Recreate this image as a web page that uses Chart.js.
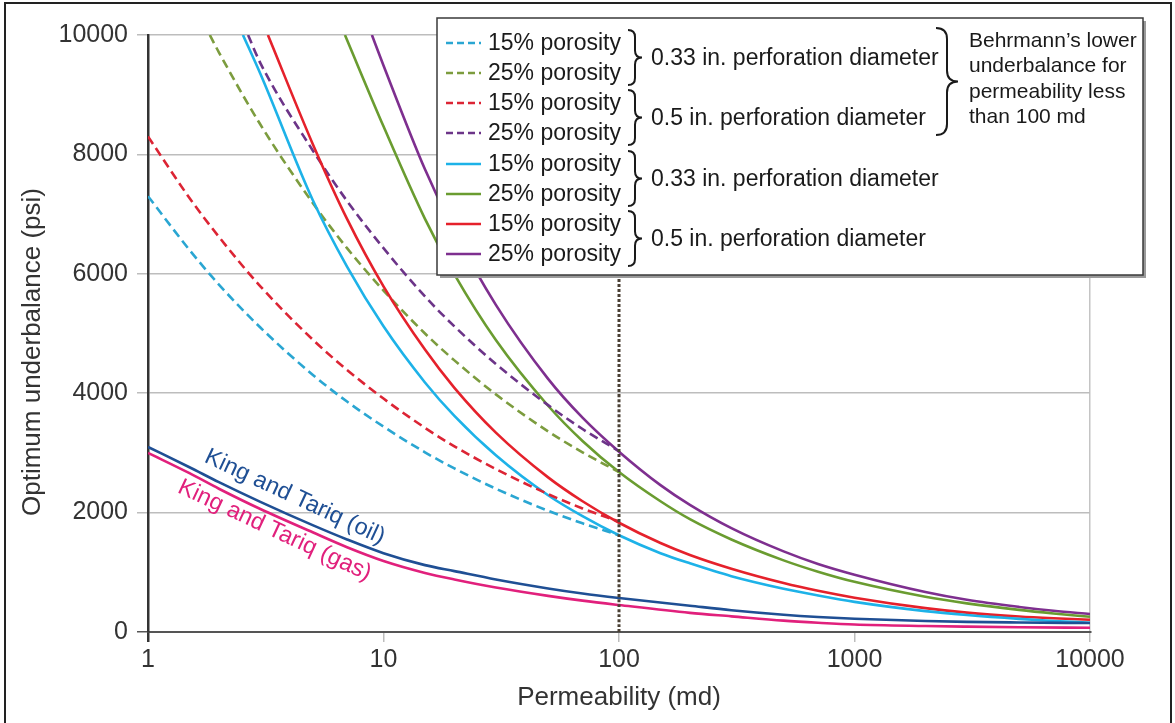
<!DOCTYPE html>
<html><head><meta charset="utf-8">
<script src="https://cdn.jsdelivr.net/npm/chart.js@4.4.0/dist/chart.umd.min.js"></script>
<style>html,body{margin:0;padding:0;background:#fff;}#wrap{width:1175px;height:723px;}</style>
</head><body><div id="wrap"><canvas id="c" width="1175" height="723"></canvas></div>
<script>
// ---- data ----
const xTickValues = [1, 10, 100, 1000, 10000];
const yTickValues = [0, 2000, 4000, 6000, 8000, 10000];

// Behrmann's lower underbalance (dashed), permeability < 100 md
const kDash15_033 = [1, 1.5, 2, 3, 5, 7, 10, 15, 20, 30, 50, 70, 100];
const vDash15_033 = [7300, 6400, 5820, 5100, 4310, 3860, 3440, 3010, 2740, 2400, 2030, 1820, 1620];
const kDash25_033 = [1.83, 2, 3, 5, 7, 10, 15, 20, 30, 50, 70, 100];
const vDash25_033 = [10000, 9710, 8500, 7190, 6430, 5720, 5000, 4550, 3980, 3360, 3010, 2680];
const kDash15_05 = [1, 1.5, 2, 3, 5, 7, 10, 15, 20, 30, 50, 70, 100];
const vDash15_05 = [8300, 7270, 6620, 5790, 4900, 4390, 3910, 3420, 3110, 2730, 2310, 2070, 1850];
const kDash25_05 = [2.66, 3, 5, 7, 10, 15, 20, 30, 50, 70, 100];
const vDash25_05 = [10000, 9530, 8070, 7220, 6430, 5620, 5120, 4490, 3800, 3400, 3030];

// Solid curves
const kSol15_033 = [2.53, 3, 5, 7, 10, 15, 20, 30, 50, 70, 100, 150, 200, 300, 500, 700, 1000, 2000, 3000, 5000, 7000, 10000];
const vSol15_033 = [10000, 9350, 7240, 6120, 5120, 4180, 3620, 2960, 2290, 1940, 1620, 1320, 1150, 935, 725, 612, 505, 350, 285, 220, 185, 155];
const kSol25_033 = [6.86, 10, 15, 20, 30, 50, 70, 100, 150, 200, 300, 500, 700, 1000, 2000, 3000, 5000, 7000, 10000];
const vSol25_033 = [10000, 8470, 6920, 5990, 4890, 3790, 3200, 2680, 2190, 1890, 1550, 1200, 1010, 840, 590, 480, 370, 310, 255];
const kSol15_05 = [3.23, 5, 7, 10, 15, 20, 30, 50, 70, 100, 150, 200, 300, 500, 700, 1000, 2000, 3000, 5000, 7000, 10000];
const vSol15_05 = [10000, 8180, 6920, 5790, 4730, 4090, 3340, 2590, 2190, 1830, 1490, 1290, 1060, 820, 690, 575, 400, 325, 260, 230, 205];
const kSol25_05 = [8.93, 10, 15, 20, 30, 50, 70, 100, 150, 200, 300, 500, 700, 1000, 2000, 3000, 5000, 7000, 10000];
const vSol25_05 = [10000, 9490, 7750, 6710, 5480, 4240, 3590, 3020, 2460, 2130, 1740, 1350, 1140, 960, 670, 540, 420, 355, 300];

// King and Tariq
const kKT = [1, 1.5, 2, 3, 5, 7, 10, 15, 20, 30, 50, 70, 100, 200, 300, 500, 700, 1000, 2000, 3000, 5000, 10000];
const vOil = [3100, 2760, 2510, 2180, 1790, 1550, 1320, 1120, 1020, 880, 730, 645, 570, 440, 365, 290, 252, 222, 185, 170, 160, 150];
const vGas = [3000, 2660, 2400, 2060, 1670, 1420, 1190, 990, 880, 745, 605, 525, 452, 320, 262, 190, 155, 125, 100, 90, 80, 70];

// Behrmann limit at 100 md
const kLimit = [100, 100];
const vLimit = [0, 10000];

const legendLabels = ['15% porosity', '25% porosity', '15% porosity', '25% porosity', '15% porosity', '25% porosity', '15% porosity', '25% porosity'];
const braceLabels = ['0.33 in. perforation diameter', '0.5 in. perforation diameter', '0.33 in. perforation diameter', '0.5 in. perforation diameter'];
const behrmannNote = ["Behrmann\u2019s lower", 'underbalance for', 'permeability less', 'than 100 md'];
const ktLabels = ['King and Tariq (oil)', 'King and Tariq (gas)'];
const yTitle = 'Optimum underbalance (psi)';
const xTitle = 'Permeability (md)';

// ---- styles ----
const C = {
  cyanD: '#2aa6d2', greenD: '#7c9c3e', redD: '#dc2434', purpD: '#6c3488',
  cyan: '#1db2e8', green: '#6a9c30', red: '#e5212b', purp: '#7e2f8f',
  oil: '#1f4f94', gas: '#e1207c', limit: '#4a4034'
};
const pts = (ks, vs) => ks.map((k, i) => ({x: k, y: vs[i]}));
const DASH = [9, 5];
function ds(label, ks, vs, color, dash, w) {
  return { label, data: pts(ks, vs), borderColor: color, borderWidth: w || 2.6, borderDash: dash || [],
    pointRadius: 0, showLine: true, fill: false, cubicInterpolationMode: 'monotone' };
}
const datasets = [
  ds('limit', kLimit, vLimit, C.limit, [3, 2], 3),
  ds('gas', kKT, vGas, C.gas),
  ds('oil', kKT, vOil, C.oil),
  ds('d15_033', kDash15_033, vDash15_033, C.cyanD, DASH),
  ds('d15_05', kDash15_05, vDash15_05, C.redD, DASH),
  ds('s15_033', kSol15_033, vSol15_033, C.cyan),
  ds('s15_05', kSol15_05, vSol15_05, C.red),
  ds('d25_033', kDash25_033, vDash25_033, C.greenD, DASH),
  ds('d25_05', kDash25_05, vDash25_05, C.purpD, DASH),
  ds('s25_033', kSol25_033, vSol25_033, C.green),
  ds('s25_05', kSol25_05, vSol25_05, C.purp),
];
const legendStyles = [
  [C.cyanD, [7, 4]], [C.greenD, [7, 4]], [C.redD, [7, 4]], [C.purpD, [7, 4]],
  [C.cyan, []], [C.green, []], [C.red, []], [C.purp, []]
];
const FONT = '"Liberation Sans", Arial, sans-serif';

function brace(ctx, x, y1, y2, w) {
  const ym = (y1 + y2) / 2, h = w / 2;
  ctx.beginPath();
  ctx.moveTo(x, y1);
  ctx.quadraticCurveTo(x + h, y1, x + h, y1 + h);
  ctx.lineTo(x + h, ym - h);
  ctx.quadraticCurveTo(x + h, ym, x + w, ym);
  ctx.quadraticCurveTo(x + h, ym, x + h, ym + h);
  ctx.lineTo(x + h, y2 - h);
  ctx.quadraticCurveTo(x + h, y2, x, y2);
  ctx.stroke();
}

const decor = {
  id: 'decor',
  beforeDraw(chart) {
    const ctx = chart.ctx;
    ctx.save(); ctx.fillStyle = '#fff'; ctx.fillRect(0, 0, chart.width, chart.height); ctx.restore();
  },
  afterDraw(chart) {
    const ctx = chart.ctx;
    const xs = chart.scales.x, ys = chart.scales.y;
    ctx.save();
    // y axis title (sits a little below the axis centre in the reference)
    ctx.save();
    ctx.translate(33, 352);
    ctx.rotate(-Math.PI / 2);
    ctx.font = '26px ' + FONT;
    ctx.fillStyle = '#333';
    ctx.textAlign = 'center'; ctx.textBaseline = 'middle';
    ctx.fillText(yTitle, 0, 0);
    ctx.restore();
    // King and Tariq labels (anchored in data coordinates)
    ctx.font = '23.5px ' + FONT;
    ctx.textAlign = 'center'; ctx.textBaseline = 'middle';
    const ktPos = [[4.2, 2260, 25, C.oil], [3.45, 1700, 25, C.gas]];
    ktPos.forEach((p, i) => {
      ctx.save();
      ctx.translate(xs.getPixelForValue(p[0]), ys.getPixelForValue(p[1]));
      ctx.rotate(p[2] * Math.PI / 180);
      ctx.fillStyle = p[3];
      ctx.fillText(ktLabels[i], 0, 0);
      ctx.restore();
    });
    // legend box
    const bx = 437, by = 18, bw = 706, bh = 257;
    ctx.fillStyle = '#9a9a9a';
    ctx.fillRect(bx + 3, by + 3, bw, bh);
    ctx.fillStyle = '#fff';
    ctx.fillRect(bx, by, bw, bh);
    ctx.strokeStyle = '#3a3a3a'; ctx.lineWidth = 1.5;
    ctx.strokeRect(bx, by, bw, bh);
    const rows = [43, 73, 103, 133, 164, 194, 224, 254];
    ctx.textAlign = 'left'; ctx.textBaseline = 'middle';
    ctx.font = '23px ' + FONT;
    rows.forEach((y, i) => {
      ctx.beginPath();
      ctx.strokeStyle = legendStyles[i][0]; ctx.lineWidth = 2.6;
      ctx.setLineDash(legendStyles[i][1]);
      ctx.moveTo(446, y); ctx.lineTo(481, y); ctx.stroke();
      ctx.setLineDash([]);
      ctx.fillStyle = '#1a1a1a';
      ctx.fillText(legendLabels[i], 488, y + 1);
    });
    ctx.strokeStyle = '#1a1a1a'; ctx.lineWidth = 2;
    for (let p = 0; p < 4; p++) {
      const y1 = rows[2 * p] - 13, y2 = rows[2 * p + 1] + 12;
      brace(ctx, 628, y1, y2, 14);
      ctx.fillText(braceLabels[p], 651, (y1 + y2) / 2 + 1);
    }
    brace(ctx, 936, 28, 135, 22);
    ctx.font = '21px ' + FONT;
    const noteY = [41, 66, 92, 117];
    noteY.forEach((y, i) => ctx.fillText(behrmannNote[i], 969, y));
    // outer frame
    ctx.strokeStyle = '#222'; ctx.lineWidth = 2;
    ctx.strokeRect(5, 3, 1166, 730);
    ctx.restore();
  }
};

new Chart(document.getElementById('c'), {
  type: 'scatter',
  data: { datasets },
  options: {
    responsive: false, animation: false, devicePixelRatio: 1,
    layout: { padding: { left: 0, right: 85, top: 35, bottom: 0 } },
    plugins: { legend: { display: false }, tooltip: { enabled: false } },
    elements: { line: { tension: 0 } },
    scales: {
      x: {
        type: 'logarithmic', min: 1, max: 10000,
        afterBuildTicks: s => { s.ticks = xTickValues.map(v => ({ value: v, major: true })); },
        afterFit: s => { s.height = 91; },
        ticks: { callback: v => String(v), color: '#333', font: { size: 25, family: FONT }, padding: 3, maxRotation: 0, autoSkip: false },
        grid: {
          color: c => (c.tick && c.tick.value === 10000) ? '#c4c4c4' : 'rgba(0,0,0,0)',
          tickColor: c => (c.tick && c.tick.value === 1) ? '#333' : '#bdbdbd',
          lineWidth: c => (c.tick && c.tick.value === 1) ? 2.5 : 1.5,
          tickLength: 10
        },
        border: { display: true, color: '#555', width: 2 },
        title: { display: true, text: xTitle, color: '#333', font: { size: 26, family: FONT }, padding: { top: 0, bottom: 10 } }
      },
      y: {
        min: 0, max: 10000,
        afterBuildTicks: s => { s.ticks = yTickValues.map(v => ({ value: v })); },
        afterFit: s => { s.width = 148; },
        ticks: { callback: v => String(v), color: '#333', font: { size: 25, family: FONT }, padding: 9 },
        grid: { color: '#bdbdbd', lineWidth: 1.5, tickColor: c => (c.tick && c.tick.value === 0) ? '#555' : '#bdbdbd', tickLength: 11 },
        border: { display: true, color: '#333', width: 2.5 },
        title: { display: false }
      }
    }
  },
  plugins: [decor]
});
</script></body></html>
